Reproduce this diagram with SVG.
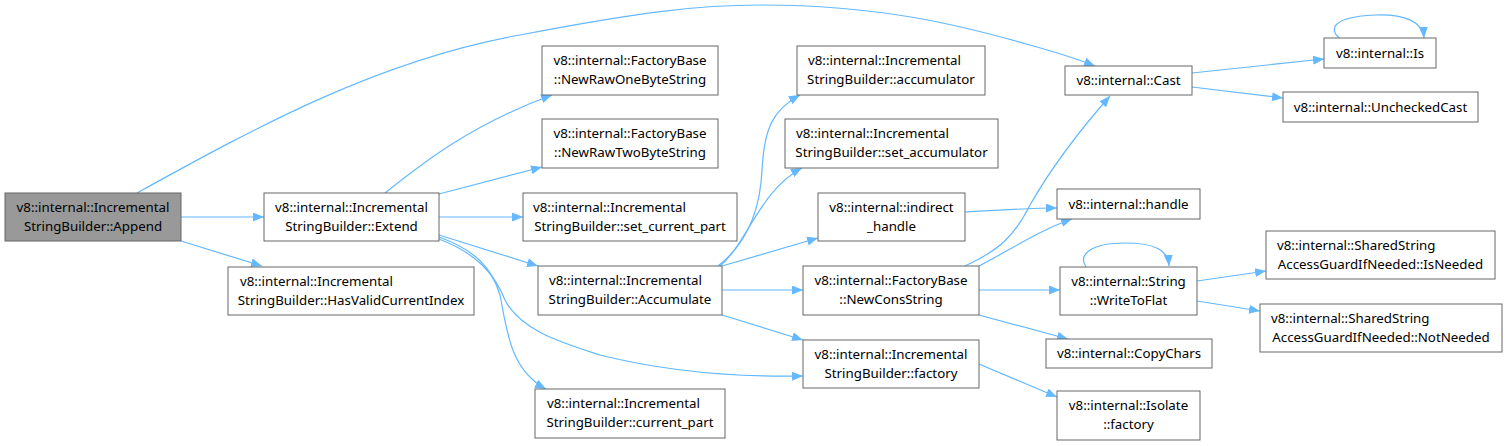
<svg xmlns="http://www.w3.org/2000/svg" width="1507" height="446" viewBox="0 0 1507 446">
<style>
.n rect{fill:#ffffff;stroke:#666666;stroke-width:1}
.n.hl rect{fill:#999999}
.n text{font-family:"Noto Sans","DejaVu Sans",sans-serif;font-size:13.3px;fill:#000000}
.m{text-anchor:middle}
.e path{fill:none;stroke:#63b8ff;stroke-width:1.2;marker-end:url(#ah)}
</style>
<defs>
<marker id="ah" markerUnits="userSpaceOnUse" markerWidth="12" markerHeight="10" refX="11" refY="4.5" orient="auto">
<path d="M0,0 L11,4.5 L0,9 z" fill="#63b8ff"/>
</marker>
</defs>
<rect width="1507" height="446" fill="#ffffff"/>
<g id="edges" class="e">
<path d="M137,193 C260,125 380,60 520,35 C640,12 700,5 760,5 C880,5 960,25 1030,45 C1055,52 1075,58 1095,66"/>
<path d="M181,217 L264,217"/>
<path d="M181,241 L262,266"/>
<path d="M385,193 C420,165 470,125 552,95"/>
<path d="M439,194 L542,167"/>
<path d="M439,217 L523,217"/>
<path d="M439,235 L538,266"/>
<path d="M439,237 C475,250 492,268 500,295 C507,330 510,370 546,389"/>
<path d="M439,239 C478,254 495,275 505,300 C520,330 560,342 600,355 C680,375 750,377 803,376"/>
<path d="M718,266 C745,245 760,215 762,170 C764,130 772,110 800,95"/>
<path d="M720,266 C746,245 760,190 802,168"/>
<path d="M722,266 L818,238"/>
<path d="M722,290 L803,290"/>
<path d="M722,315 L803,340"/>
<path d="M965,212 C1000,210 1030,208 1057,208"/>
<path d="M979,266 C1010,250 1040,230 1072,219"/>
<path d="M965,266 C1000,250 1015,235 1030,205 C1050,170 1080,130 1110,96"/>
<path d="M979,290 L1060,290"/>
<path d="M979,315 L1068,339"/>
<path d="M979,364 L1057,397"/>
<path d="M1192,73 L1324,59"/>
<path d="M1192,87 L1283,98"/>
<path d="M1339,38 C1330,30 1330,17 1375,15 C1405,14 1423,22 1424,38"/>
<path d="M1086,267 C1078,255 1090,243 1125,243 C1155,243 1168,250 1169,266"/>
<path d="M1197,281 L1266,271"/>
<path d="M1197,301 L1260,311"/>
</g>
<g id="n_append" class="n hl"><rect x="5" y="193" width="176" height="48"/><text class="m" x="93" y="212">v8::internal::Incremental</text><text class="m" x="93" y="231">StringBuilder::Append</text></g>
<g id="n_extend" class="n"><rect x="264" y="193" width="175" height="48"/><text class="m" x="351.5" y="212">v8::internal::Incremental</text><text class="m" x="351.5" y="231">StringBuilder::Extend</text></g>
<g id="n_hasvalid" class="n"><rect x="228" y="267" width="246" height="48"/><text x="240" y="286">v8::internal::Incremental</text><text class="m" x="351" y="305">StringBuilder::HasValidCurrentIndex</text></g>
<g id="n_onebyte" class="n"><rect x="542" y="46" width="176" height="49"/><text class="m" x="630" y="65">v8::internal::FactoryBase</text><text class="m" x="630" y="84">::NewRawOneByteString</text></g>
<g id="n_twobyte" class="n"><rect x="542" y="119" width="176" height="49"/><text class="m" x="630" y="138">v8::internal::FactoryBase</text><text class="m" x="630" y="157">::NewRawTwoByteString</text></g>
<g id="n_setcurrent" class="n"><rect x="523" y="193" width="214" height="48"/><text x="533" y="212">v8::internal::Incremental</text><text class="m" x="630" y="231">StringBuilder::set_current_part</text></g>
<g id="n_accumulate" class="n"><rect x="538" y="266" width="184" height="49"/><text x="549" y="285">v8::internal::Incremental</text><text class="m" x="630" y="304">StringBuilder::Accumulate</text></g>
<g id="n_currentpart" class="n"><rect x="535" y="389" width="190" height="49"/><text x="547" y="408">v8::internal::Incremental</text><text class="m" x="630" y="427">StringBuilder::current_part</text></g>
<g id="n_accumulator" class="n"><rect x="797" y="46" width="188" height="49"/><text x="808" y="65">v8::internal::Incremental</text><text class="m" x="891" y="84">StringBuilder::accumulator</text></g>
<g id="n_setaccumulator" class="n"><rect x="785" y="119" width="213" height="49"/><text x="796" y="138">v8::internal::Incremental</text><text class="m" x="891.5" y="157">StringBuilder::set_accumulator</text></g>
<g id="n_indirect" class="n"><rect x="818" y="193" width="147" height="48"/><text class="m" x="891.5" y="212">v8::internal::indirect</text><text class="m" x="891.5" y="231">_handle</text></g>
<g id="n_newcons" class="n"><rect x="803" y="266" width="176" height="49"/><text class="m" x="891" y="285">v8::internal::FactoryBase</text><text class="m" x="891" y="304">::NewConsString</text></g>
<g id="n_factory" class="n"><rect x="803" y="340" width="176" height="48"/><text class="m" x="891" y="359">v8::internal::Incremental</text><text class="m" x="891" y="378">StringBuilder::factory</text></g>
<g id="n_cast" class="n"><rect x="1065" y="66" width="127" height="29"/><text class="m" x="1128.5" y="85">v8::internal::Cast</text></g>
<g id="n_is" class="n"><rect x="1324" y="38" width="112" height="30"/><text class="m" x="1380" y="58">v8::internal::Is</text></g>
<g id="n_unchecked" class="n"><rect x="1283" y="92" width="195" height="30"/><text class="m" x="1380.5" y="112">v8::internal::UncheckedCast</text></g>
<g id="n_handle" class="n"><rect x="1057" y="189" width="143" height="30"/><text class="m" x="1128.5" y="209">v8::internal::handle</text></g>
<g id="n_writetoflat" class="n"><rect x="1060" y="267" width="137" height="48"/><text class="m" x="1128.5" y="286">v8::internal::String</text><text class="m" x="1128.5" y="305">::WriteToFlat</text></g>
<g id="n_copychars" class="n"><rect x="1046" y="339" width="166" height="29"/><text class="m" x="1129" y="358">v8::internal::CopyChars</text></g>
<g id="n_isolatefactory" class="n"><rect x="1057" y="391" width="143" height="49"/><text class="m" x="1128.5" y="410">v8::internal::Isolate</text><text class="m" x="1128.5" y="429">::factory</text></g>
<g id="n_isneeded" class="n"><rect x="1266" y="231" width="229" height="48"/><text x="1277" y="250">v8::internal::SharedString</text><text class="m" x="1380.5" y="269">AccessGuardIfNeeded::IsNeeded</text></g>
<g id="n_notneeded" class="n"><rect x="1260" y="304" width="242" height="48"/><text x="1271" y="323">v8::internal::SharedString</text><text class="m" x="1381" y="342">AccessGuardIfNeeded::NotNeeded</text></g>
</svg>
